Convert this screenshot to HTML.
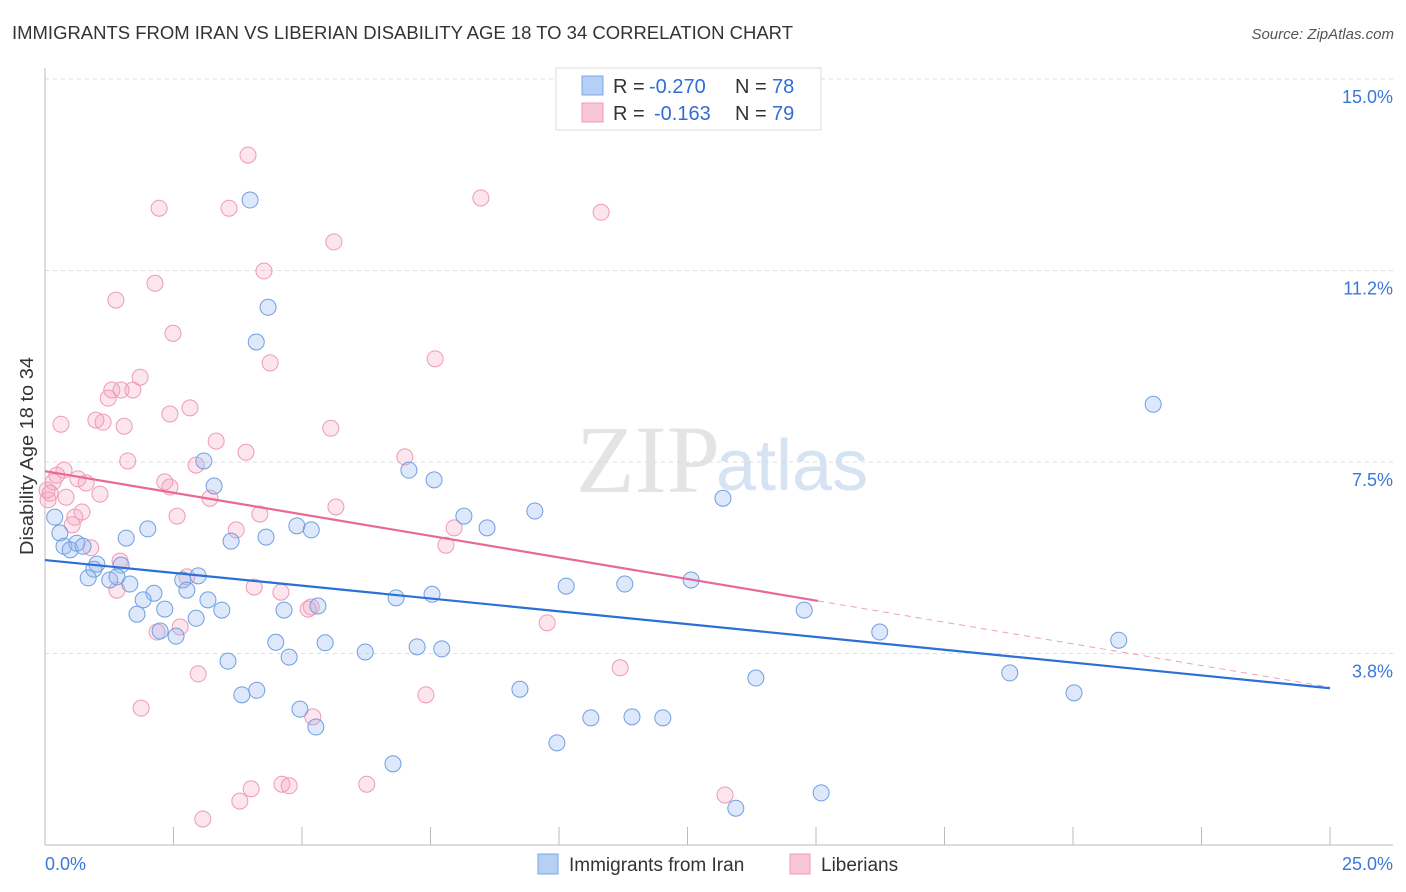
<!DOCTYPE html>
<html><head><meta charset="utf-8"><style>
body{margin:0;background:#fff;width:1406px;height:892px;overflow:hidden;font-family:"Liberation Sans",sans-serif}
svg{position:absolute;left:0;top:0}
</style></head><body>
<svg id="c" width="1406" height="892">
<text x="12" y="39" font-size="18" fill="#333" textLength="781" lengthAdjust="spacingAndGlyphs">IMMIGRANTS FROM IRAN VS LIBERIAN DISABILITY AGE 18 TO 34 CORRELATION CHART</text>
<text x="1394" y="39" font-size="15" fill="#555" text-anchor="end" font-style="italic">Source: ZipAtlas.com</text>
<text x="720" y="492" font-size="96" fill="#e4e4e4" text-anchor="end" font-family="Liberation Serif">ZIP</text>
<text x="716" y="490" font-size="72" fill="#d6e3f3">atlas</text>
<text transform="translate(33,456) rotate(-90)" font-size="18" fill="#333" text-anchor="middle" textLength="198" lengthAdjust="spacingAndGlyphs">Disability Age 18 to 34</text>
<g id="grid"></g><g id="pts"></g><g id="lines"></g>
<g>
<rect x="556" y="68" width="265" height="62" fill="#fff" stroke="#ddd"/>
<rect x="582" y="76" width="21" height="19" fill="#b5cff5" stroke="#7aa7e6"/>
<rect x="582" y="103" width="21" height="19" fill="#f8c7d7" stroke="#ee9ab8"/>
<text x="613" y="93" font-size="20" fill="#333">R =</text>
<text x="649" y="93" font-size="20" fill="#2f6fd6">-0.270</text>
<text x="735" y="93" font-size="20" fill="#333">N =</text>
<text x="772" y="93" font-size="20" fill="#2f6fd6">78</text>
<text x="613" y="120" font-size="20" fill="#333">R =</text>
<text x="654" y="120" font-size="20" fill="#2f6fd6">-0.163</text>
<text x="735" y="120" font-size="20" fill="#333">N =</text>
<text x="772" y="120" font-size="20" fill="#2f6fd6">79</text>
</g>
<g>
<rect x="538" y="854" width="20" height="20" fill="#b5cff5" stroke="#7aa7e6"/>
<text x="569" y="871" font-size="19" fill="#333">Immigrants from Iran</text>
<rect x="790" y="854" width="20" height="20" fill="#f8c7d7" stroke="#ee9ab8"/>
<text x="821" y="871" font-size="19" fill="#333">Liberians</text>
</g>
<text x="45" y="870" font-size="18" fill="#3a78d8">0.0%</text>
<text x="1393" y="870" font-size="18" fill="#3a78d8" text-anchor="end">25.0%</text>
</svg>
<script>
const xMax=25, yMax=15;
const yTicks=[3.75,7.5,11.25,15];
const yTickLabels=["3.8%","7.5%","11.2%","15.0%"];
const xTicks=[0,2.5,5,7.5,10,12.5,15,17.5,20,22.5,25];
const blueX=[3.99,4.34,4.11,21.56,3.09,7.08,7.57,3.29,13.19,8.15,9.53,8.60,4.90,5.18,2.00,0.19,0.29,4.30,3.62,1.58,0.37,0.62,0.49,0.74,1.01,1.48,0.95,1.26,0.84,1.40,1.65,2.68,2.98,2.76,2.12,1.91,3.17,3.44,2.33,1.79,2.94,2.24,2.55,6.83,7.53,10.14,11.28,12.57,14.77,4.65,5.31,4.49,5.45,6.23,7.24,7.72,4.75,3.56,16.24,20.89,13.83,18.77,20.02,9.24,4.12,3.83,4.96,5.27,10.62,11.42,12.02,9.96,6.77,15.10,13.44];
const blueY=[12.63,10.53,9.85,8.63,7.52,7.34,7.15,7.03,6.79,6.44,6.54,6.21,6.25,6.17,6.19,6.42,6.11,6.03,5.95,6.01,5.85,5.91,5.78,5.85,5.50,5.48,5.40,5.19,5.23,5.25,5.11,5.19,5.27,4.99,4.93,4.80,4.80,4.60,4.62,4.52,4.44,4.19,4.09,4.84,4.91,5.07,5.11,5.19,4.60,4.60,4.68,3.97,3.96,3.78,3.88,3.84,3.68,3.60,4.17,4.01,3.27,3.37,2.98,3.05,3.03,2.94,2.66,2.31,2.49,2.51,2.49,2.00,1.59,1.02,0.72];
const pinkX=[3.95,8.48,2.22,3.58,10.82,5.62,4.26,2.14,1.38,2.49,7.59,4.38,1.85,1.30,1.71,1.48,1.23,0.31,0.99,1.13,1.54,2.82,2.43,5.56,3.33,3.91,7.00,1.61,2.94,0.37,0.23,0.64,0.16,2.33,0.80,2.43,1.07,0.41,3.21,0.06,5.66,0.72,4.18,2.57,0.58,0.53,3.72,7.96,7.80,0.89,1.46,0.04,2.76,1.40,4.07,4.59,5.18,5.12,2.18,2.63,9.77,11.19,2.98,7.41,1.87,5.21,4.61,4.75,6.26,4.01,3.79,13.23,3.07,0.10];
const pinkY=[13.51,12.67,12.47,12.47,12.39,11.81,11.24,11.00,10.67,10.02,9.52,9.44,9.16,8.91,8.91,8.91,8.75,8.24,8.32,8.28,8.20,8.56,8.44,8.16,7.91,7.69,7.60,7.52,7.44,7.34,7.24,7.17,7.11,7.11,7.09,7.01,6.87,6.81,6.79,6.76,6.62,6.52,6.48,6.44,6.42,6.27,6.17,6.21,5.87,5.82,5.56,6.95,5.25,4.99,5.05,4.95,4.66,4.62,4.17,4.27,4.35,3.47,3.35,2.94,2.68,2.51,1.19,1.16,1.19,1.10,0.86,0.98,0.51,6.89];
const blueTrend=[[0,5.58],[25,3.07]];
const pinkTrend=[[0,7.32],[15.04,4.78]];
const pinkTrendExt=[[15.04,4.78],[25,3.09]];
const L=45,R=1330,T=79,B=845;
const sx=v=>L+v/xMax*(R-L), sy=v=>B-v/yMax*(B-T);
const NS="http://www.w3.org/2000/svg";
function mk(tag,attrs,parent){const e=document.createElementNS(NS,tag);for(const k in attrs)e.setAttribute(k,attrs[k]);parent.appendChild(e);return e;}
const grid=document.getElementById('grid');
yTicks.forEach((t,i)=>{
 const g=mk('line',{x1:L,x2:1393,y1:sy(t),y2:sy(t),stroke:'#ddd','stroke-dasharray':'4,4'},grid);
 
 
 const tx=mk('text',{x:1393,y:sy(t)+24,'font-size':18,fill:'#3a78d8','text-anchor':'end'},grid);
 tx.textContent=yTickLabels[i];
 
 
});
const ax=mk('line',{x1:L,x2:1393,y1:B,y2:B,stroke:'#bbb'},grid);


const ay=mk('line',{x1:L,x2:L,y1:68,y2:B,stroke:'#bbb'},grid);


xTicks.forEach(t=>{
 const l=mk('line',{x1:sx(t),x2:sx(t),y1:827,y2:B,stroke:'#bbb'},grid);
 
 
});
const pts=document.getElementById('pts');
pinkX.forEach((x,i)=>{
 const c=mk('circle',{cx:sx(x),cy:sy(pinkY[i]),r:8,fill:'rgba(244,160,190,0.28)',stroke:'#ee9ab8','stroke-width':1},pts);
 
 
});
blueX.forEach((x,i)=>{
 const c=mk('circle',{cx:sx(x),cy:sy(blueY[i]),r:8,fill:'rgba(150,185,240,0.32)',stroke:'#6f9fe0','stroke-width':1},pts);
 
 
});
const lines=document.getElementById('lines');
function tl(p,color,w,dash,name){
 const l=mk('line',{x1:sx(p[0][0]),y1:sy(p[0][1]),x2:sx(p[1][0]),y2:sy(p[1][1]),stroke:color,'stroke-width':w},lines);
 if(dash)l.setAttribute('stroke-dasharray',dash);
 
 
}
tl(pinkTrendExt,'#f0a0bc',1,'6,5','liberian-trend-extension');
tl(blueTrend,'#2c6fd6',2.2,null,'iran-trend-line');
tl(pinkTrend,'#e8689a',2.2,null,'liberian-trend-line');
</script>
</body></html>
